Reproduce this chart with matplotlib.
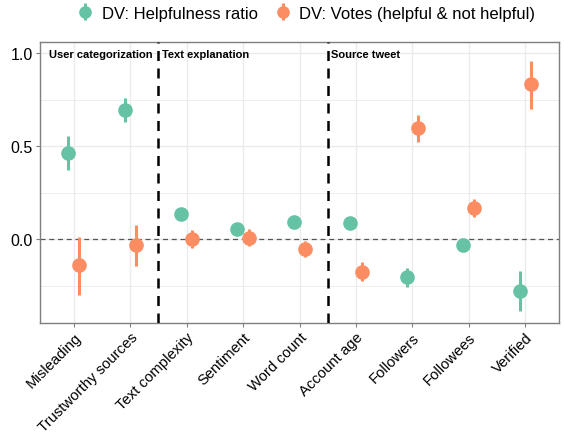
import matplotlib
matplotlib.use("Agg")
import matplotlib.pyplot as plt
import numpy as np

plt.rcParams['font.family'] = ['Liberation Sans', 'DejaVu Sans']

categories = ["Misleading", "Trustworthy sources", "Text complexity", "Sentiment",
              "Word count", "Account age", "Followers", "Followees", "Verified"]
series_names = ["DV: Helpfulness ratio", "DV: Votes (helpful & not helpful)"]

help_est = [0.462, 0.695, 0.136, 0.054, 0.091, 0.088, -0.203, -0.029, -0.278]
help_lo = [0.372, 0.632, 0.118, 0.040, 0.078, 0.074, -0.256, -0.043, -0.384]
help_hi = [0.554, 0.760, 0.154, 0.068, 0.104, 0.102, -0.154, -0.015, -0.172]

votes_est = [-0.140, -0.032, 0.000, 0.009, -0.052, -0.174, 0.597, 0.168, 0.833]
votes_lo = [-0.300, -0.142, -0.048, -0.034, -0.097, -0.226, 0.525, 0.120, 0.702]
votes_hi = [0.014, 0.077, 0.050, 0.054, -0.007, -0.124, 0.667, 0.215, 0.960]

group_labels = ["User categorization", "Text explanation", "Source tweet"]
group_starts = [0.5, 2.5, 5.5]
group_bounds = [2.5, 5.5]

colors = ["#66C2A5", "#FC8D62"]

fig = plt.figure(figsize=(5.64, 4.35), dpi=100)
ax = fig.add_axes([40/564, 1-324/435, (559-40)/564, (324-43)/435])

x = np.arange(1, len(categories) + 1)
dodge = 0.1
handles = []
for i, (est, lo, hi) in enumerate([(help_est, help_lo, help_hi), (votes_est, votes_lo, votes_hi)]):
    est = np.array(est); lo = np.array(lo); hi = np.array(hi)
    xs = x + (-dodge if i == 0 else dodge)
    h = ax.errorbar(xs, est, yerr=[est - lo, hi - est], fmt="o", color=colors[i],
                    ms=9.5, elinewidth=2.2, capsize=0, zorder=4, label=series_names[i])
    handles.append(h)

ax.axhline(0, color="#555555", lw=0.9, ls=(0, (4, 3)), zorder=2)
for b in group_bounds:
    ax.axvline(b, color="black", lw=1.8, ls=(0, (4, 3)), zorder=3)

ax.set_xlim(0.4, 9.6)
ax.set_ylim(-0.45, 1.06)
ax.set_xticks(x)
ax.set_xticklabels(categories, rotation=45, ha="right", rotation_mode="anchor", fontsize=10.7)
ax.set_yticks([0.0, 0.5, 1.0])
ax.set_yticklabels(["0.0", "0.5", "1.0"], fontsize=11.5)
ax.set_yticks([-0.25, 0.25, 0.75], minor=True)
ax.grid(True, which="major", color="#EBEBEB", lw=1.0, zorder=0)
ax.grid(True, which="minor", axis="y", color="#EBEBEB", lw=0.6, zorder=0)
ax.set_axisbelow(True)
for s in ax.spines.values():
    s.set_color("#7F7F7F")
    s.set_linewidth(1.0)
ax.tick_params(axis="both", which="major", color="#7F7F7F", length=3, labelcolor="black", pad=2)
ax.tick_params(axis="y", which="minor", length=0)

for lab, start in zip(group_labels, group_starts):
    ax.text(start + 0.06, 1.025, lab, fontsize=8, fontweight="bold", va="top", ha="left")

fig.legend(handles=handles, labels=series_names, loc="center", bbox_to_anchor=(305/564, 1-14/435),
           ncol=2, frameon=False, fontsize=12, handletextpad=0.4, columnspacing=0.9,
           handlelength=1.2, markerscale=0.85)

fig.savefig("out.png", dpi=100)
